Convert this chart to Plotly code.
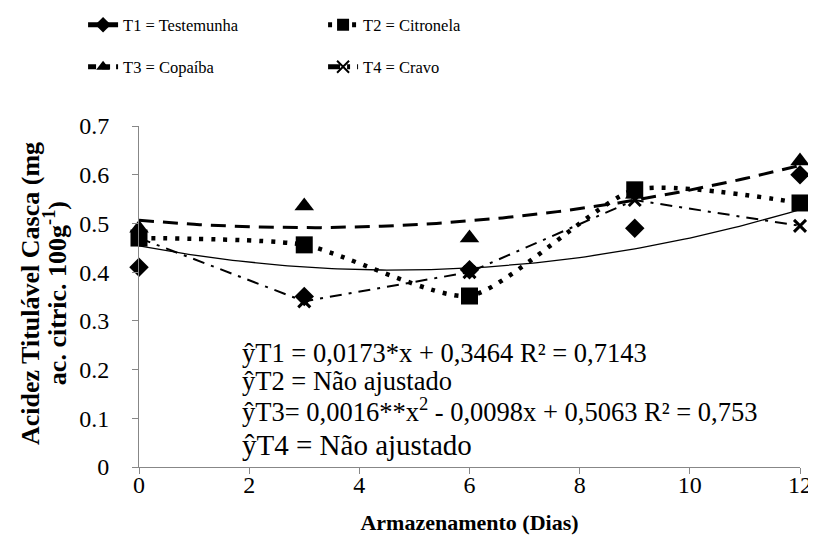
import numpy as np
import plotly.graph_objects as go

# dias de armazenamento
dias = [0, 3, 6, 9, 12]

# acidez titulavel da casca por tratamento
t1_testemunha = [0.41, 0.35, 0.405, 0.49, 0.60]
t2_citronela = [0.47, 0.456, 0.351, 0.569, 0.542]
t3_copaiba = [0.49, 0.536, 0.470, 0.56, 0.628]
t4_cravo = [0.47, 0.34, 0.40, 0.548, 0.495]

# coeficientes das linhas de tendencia (a*x^2 + b*x + c)
tend_t1 = [0.0023, -0.0214, 0.454]
tend_t3 = [0.0016, -0.0098, 0.5063]

legend_names = ["T1 = Testemunha", "T2 = Citronela", "T3 = Copaíba", "T4 = Cravo"]

eq_lines = ["ŷT1 = 0,0173*x + 0,3464 R² = 0,7143",
            "ŷT2 = Não ajustado",
            "ŷT3= 0,0016**x<sup>2</sup> - 0,0098x + 0,5063 R² = 0,753",
            "ŷT4 = Não ajustado"]

ytitle_lines = ["<b>Acidez Titulável Casca (mg</b>",
                "<b>ac. citric. 100g<sup>-1</sup>)</b>"]

FONT = "Liberation Serif"
AX = "#878787"

xs = np.linspace(0, 12, 121)

fig = go.Figure()

# trend curves
fig.add_trace(go.Scatter(x=xs, y=np.polyval(tend_t3, xs), mode="lines",
                         line=dict(color="black", width=3, dash="15px,9px"),
                         showlegend=False, hoverinfo="skip"))
fig.add_trace(go.Scatter(x=xs, y=np.polyval(tend_t1, xs), mode="lines",
                         line=dict(color="black", width=1.3),
                         showlegend=False, hoverinfo="skip"))

# T3 points
fig.add_trace(go.Scatter(x=dias, y=t3_copaiba, mode="markers",
                         marker=dict(symbol="triangle-up", size=17, color="black"),
                         showlegend=False, cliponaxis=False))
# T1 points
fig.add_trace(go.Scatter(x=dias, y=t1_testemunha, mode="markers",
                         marker=dict(symbol="diamond", size=15, color="black"),
                         showlegend=False, cliponaxis=False))
# T4 points + line
fig.add_trace(go.Scatter(x=dias, y=t4_cravo, mode="lines+markers", name=legend_names[3],
                         line=dict(color="black", width=2, dash="12px,7px,3px,7px"),
                         marker=dict(symbol="x-thin-open", size=12, color="black",
                                     line=dict(width=3, color="black")),
                         legend="legend2", legendrank=2, cliponaxis=False))
# T2 points + smoothed line
fig.add_trace(go.Scatter(x=dias, y=t2_citronela, mode="lines+markers", name=legend_names[1],
                         line=dict(color="black", width=4.5, dash="4px,8px", shape="spline", smoothing=0.6),
                         marker=dict(symbol="square", size=17, color="black"),
                         legend="legend", legendrank=2, cliponaxis=False))

# legend-only entries for the fitted series
fig.add_trace(go.Scatter(x=[None], y=[None], mode="lines+markers", name=legend_names[0],
                         line=dict(color="black", width=2),
                         marker=dict(symbol="diamond", size=11, color="black"),
                         legend="legend", legendrank=1))
fig.add_trace(go.Scatter(x=[None], y=[None], mode="lines+markers", name=legend_names[2],
                         line=dict(color="black", width=3, dash="8px,6px"),
                         marker=dict(symbol="triangle-up", size=11, color="black"),
                         legend="legend2", legendrank=1))

# equation annotations
eq_y = [0.234, 0.177, 0.117, 0.045]
eq_size = [26.5, 26.5, 26.5, 29]
for txt, yy, sz in zip(eq_lines, eq_y, eq_size):
    fig.add_annotation(x=1.86, y=yy, xref="x", yref="y", text=txt, showarrow=False,
                       xanchor="left", yanchor="middle", borderpad=0,
                       font=dict(family=FONT, size=sz, color="black"))

# y axis title, two tight lines
for txt, xx in zip(ytitle_lines, [-0.165, -0.127]):
    fig.add_annotation(x=xx, y=0.51, xref="paper", yref="paper", text=txt, showarrow=False,
                       textangle=-90, xanchor="center", yanchor="middle",
                       font=dict(family=FONT, size=26, color="black"))

leg = dict(orientation="h", xref="container", yref="container", xanchor="left", yanchor="middle",
           entrywidth=195, font=dict(family=FONT, size=16.5, color="black"),
           bgcolor="rgba(0,0,0,0)", itemsizing="constant", traceorder="normal")

fig.update_layout(
    width=816, height=537,
    margin=dict(l=131, r=16, t=118, b=78),
    paper_bgcolor="white", plot_bgcolor="white",
    font=dict(family=FONT, color="black"),
    legend=dict(leg, x=0.092, y=1 - 17 / 537),
    legend2=dict(leg, x=0.092, y=1 - 59 / 537),
    showlegend=True,
)

fig.update_xaxes(range=[0, 12], dtick=2, showgrid=False, zeroline=False,
                 showline=True, linecolor=AX, linewidth=1,
                 ticks="outside", ticklen=6, tickcolor=AX, ticklabelstandoff=-10,
                 tickfont=dict(family=FONT, size=24, color="black"),
                 title=dict(text="<b>Armazenamento (Dias)</b>", standoff=17,
                            font=dict(family=FONT, size=22, color="black")))
fig.update_yaxes(range=[0, 0.7], dtick=0.1, showgrid=False, zeroline=False,
                 showline=True, linecolor=AX, linewidth=1,
                 ticks="outside", ticklen=6, tickcolor=AX, ticklabelstandoff=18,
                 tickfont=dict(family=FONT, size=24, color="black"))

fig.write_html("out.html")
